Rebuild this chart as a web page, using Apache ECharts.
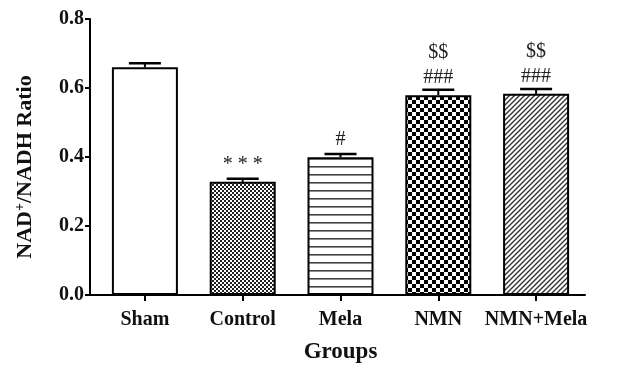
<!DOCTYPE html>
<html>
<head>
<meta charset="utf-8">
<script src="https://cdn.jsdelivr.net/npm/echarts@6/dist/echarts.min.js"></script>
<style>html,body{margin:0;padding:0;background:#fff}#c{width:633px;height:371px}</style>
</head>
<body>
<div id="c"></div>
<script>
var categories = ['Sham', 'Control', 'Mela', 'NMN', 'NMN+Mela'];
var ratioValues = [0.66, 0.328, 0.399, 0.579, 0.583];
var ratioErrors = [0.012, 0.009, 0.01, 0.016, 0.014];
var annotations = ['', '* * *', '#', '$$\n###', '$$\n###'];
var yTicks = [0, 0.2, 0.4, 0.6, 0.8];

function makeCanvas(w, h, draw) {
  var c = document.createElement('canvas');
  c.width = w; c.height = h;
  var g = c.getContext('2d');
  g.fillStyle = '#fff'; g.fillRect(0, 0, w, h);
  draw(g);
  return c;
}
var smallChecker = makeCanvas(4, 4, function (g) {
  g.fillStyle = '#222'; g.fillRect(0, 0, 2, 2); g.fillRect(2, 2, 2, 2);
});
var bigChecker = makeCanvas(8, 8, function (g) {
  g.fillStyle = '#000'; g.fillRect(0, 0, 4, 4); g.fillRect(4, 4, 4, 4);
});
var hLines = makeCanvas(8, 8, function (g) {
  g.fillStyle = '#444'; g.fillRect(0, 6, 8, 1.6);
});
var diag = makeCanvas(5, 5, function (g) {
  g.strokeStyle = '#333'; g.lineWidth = 1.4;
  g.beginPath();
  g.moveTo(-1, 6); g.lineTo(6, -1);
  g.moveTo(-1, 1); g.lineTo(1, -1);
  g.moveTo(4, 6); g.lineTo(6, 4);
  g.stroke();
});
var fills = ['#fff',
  {image: smallChecker, repeat: 'repeat'},
  {image: hLines, repeat: 'repeat'},
  {image: bigChecker, repeat: 'repeat'},
  {image: diag, repeat: 'repeat'}];

var font = '"Liberation Serif", "Times New Roman", serif';
var chart = echarts.init(document.getElementById('c'), null, {renderer: 'canvas'});
chart.setOption({
  backgroundColor: '#fff',
  animation: false,
  grid: [
    {left: 96, right: 48, top: 19, bottom: 76},
    {left: 90, right: 48, top: 19, bottom: 76}
  ],
  xAxis: [{
    type: 'category', gridIndex: 0, data: categories,
    name: 'Groups', nameLocation: 'middle', nameGap: 46,
    nameTextStyle: {fontFamily: font, fontWeight: 'bold', fontSize: 23, color: '#111'},
    axisLine: {show: false},
    axisTick: {show: true, alignWithLabel: true, length: 6, lineStyle: {color: '#000', width: 2}},
    axisLabel: {fontFamily: font, fontWeight: 'bold', fontSize: 20, color: '#111', margin: 15,
      interval: 0, hideOverlap: false},
    splitLine: {show: false}
  }, {
    type: 'value', gridIndex: 1, min: 0, max: 1,
    axisLine: {show: true, lineStyle: {color: '#000', width: 2}},
    axisTick: {show: false}, axisLabel: {show: false}, splitLine: {show: false}
  }],
  yAxis: [{
    type: 'value', gridIndex: 0, min: 0, max: 0.8, interval: 0.2, offset: 6,
    name: 'NAD{sup|+}/NADH Ratio', nameLocation: 'middle', nameGap: 52, nameRotate: 90,
    nameTextStyle: {fontFamily: font, fontWeight: 'bold', fontSize: 22, color: '#111',
      padding: [0, 20, 0, 0],
      rich: {sup: {fontFamily: font, fontWeight: 'bold', fontSize: 14, color: '#111', padding: [0, 0, 11, 0]}}},
    axisLine: {show: true, lineStyle: {color: '#000', width: 2}},
    axisTick: {show: true, length: 5, lineStyle: {color: '#000', width: 2}},
    axisLabel: {fontFamily: font, fontWeight: 'bold', fontSize: 20, color: '#111', margin: 6,
      formatter: function (v) { return v.toFixed(1); }},
    splitLine: {show: false}
  }, {
    type: 'value', gridIndex: 1, min: 0, max: 1, show: false
  }],
  series: [{
    type: 'bar', xAxisIndex: 0, yAxisIndex: 0, barWidth: 66,
    data: ratioValues.map(function (v, i) {
      return {value: v, itemStyle: {color: fills[i]}};
    }),
    itemStyle: {borderColor: '#000', borderWidth: 2},
    label: {
      show: true, position: 'top', distance: 5,
      fontFamily: font, fontSize: 20, color: '#222', lineHeight: 25,
      formatter: function (p) { return annotations[p.dataIndex]; }
    },
    z: 2
  }, {
    type: 'custom', xAxisIndex: 0, yAxisIndex: 0,
    data: ratioValues.map(function (v, i) { return [i, v, ratioErrors[i]]; }),
    renderItem: function (params, api) {
      var x = api.value(0), v = api.value(1), e = api.value(2);
      var base = api.coord([x, v]);
      var top = api.coord([x, v + e]);
      var hw = 16;
      return {
        type: 'group',
        children: [
          {type: 'line', shape: {x1: base[0], y1: base[1], x2: top[0], y2: top[1]}, style: {stroke: '#000', lineWidth: 2}},
          {type: 'line', shape: {x1: top[0] - hw, y1: top[1], x2: top[0] + hw, y2: top[1]}, style: {stroke: '#000', lineWidth: 2.5}}
        ]
      };
    },
    z: 3
  }]
});
</script>
</body>
</html>
